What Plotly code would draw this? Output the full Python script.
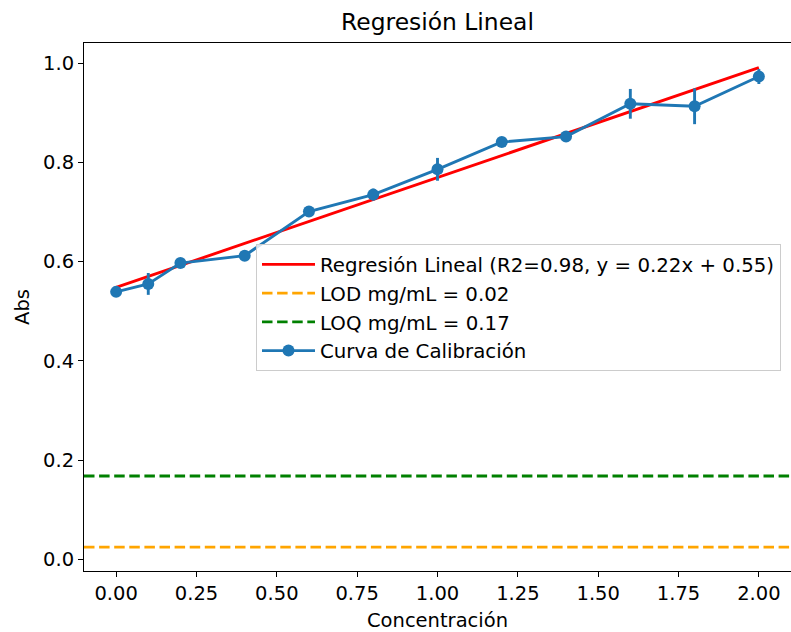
import plotly.graph_objects as go

# Data
conc = [0.0, 0.1, 0.2, 0.4, 0.6, 0.8, 1.0, 1.2, 1.4, 1.6, 1.8, 2.0]
absorb = [0.539, 0.555, 0.597, 0.612, 0.701, 0.735, 0.786, 0.841, 0.852, 0.918, 0.913, 0.973]
abs_err = [0.005, 0.022, 0.005, 0.008, 0.008, 0.012, 0.023, 0.008, 0.010, 0.030, 0.036, 0.015]
slope = 0.2215
intercept = 0.548
lod_y = 0.0246
loq_y = 0.168
x_ticks = [0.0, 0.25, 0.5, 0.75, 1.0, 1.25, 1.5, 1.75, 2.0]
y_ticks = [0.0, 0.2, 0.4, 0.6, 0.8, 1.0]

x_range = [-0.1, 2.1]
y_range = [-0.0236, 1.0406]

W, H = 791, 632
ML, MR, MT, MB = 84, 0, 43, 61
FONT = "DejaVu Sans"
FS = 19.5

fig = go.Figure()

reg_x = [conc[0], conc[-1]]
reg_y = [slope * v + intercept for v in reg_x]
fig.add_trace(go.Scatter(
    x=reg_x, y=reg_y, mode="lines",
    line=dict(color="#ff0000", width=2.9),
    name="Regresión Lineal (R2=0.98, y = 0.22x + 0.55)", legendgroup="a"))

fig.add_trace(go.Scatter(
    x=x_range, y=[lod_y, lod_y], mode="lines",
    line=dict(color="#ffa500", width=2.9, dash="10.5px,4.6px"),
    name="LOD mg/mL = 0.02", legendgroup="b"))

fig.add_trace(go.Scatter(
    x=x_range, y=[loq_y, loq_y], mode="lines",
    line=dict(color="#008000", width=2.9, dash="10.5px,4.6px"),
    name="LOQ mg/mL = 0.17", legendgroup="c"))

fig.add_trace(go.Scatter(
    x=conc, y=absorb, mode="lines+markers",
    line=dict(color="#1f77b4", width=2.9),
    marker=dict(color="#1f77b4", size=12),
    error_y=dict(type="data", array=abs_err, visible=True,
                 color="#1f77b4", thickness=2.9, width=0),
    name="Curva de Calibración", legendgroup="d"))

fig.update_layout(
    width=W, height=H,
    margin=dict(l=ML, r=MR, t=MT, b=MB),
    paper_bgcolor="white", plot_bgcolor="white",
    font=dict(family=FONT, size=FS, color="black"),
    title=dict(text="Regresión Lineal", x=(ML + (W - ML - MR) / 2) / W, xanchor="center",
               xref="container", y=1 - 22 / H, yanchor="middle", yref="container",
               font=dict(size=23.4, family=FONT, color="black")),
    showlegend=True,
    legend=dict(x=(256 - ML) / (W - ML - MR), y=(H - MB - 244) / (H - MT - MB),
                xanchor="left", yanchor="top",
                bgcolor="rgba(255,255,255,0.8)", bordercolor="#cccccc", borderwidth=1,
                font=dict(size=19.8, family=FONT, color="black"),
                itemwidth=53, tracegroupgap=0, traceorder="grouped"),
)

fig.update_xaxes(
    range=x_range, tickvals=x_ticks, tickformat=".2f",
    showgrid=False, zeroline=False,
    showline=True, linecolor="black", linewidth=1.1, mirror=True,
    ticks="outside", ticklen=5, tickwidth=1.1, tickcolor="black",
    title=dict(text="Concentración", standoff=8, font=dict(size=FS, family=FONT)),
    automargin=False,
)
fig.update_yaxes(
    range=y_range, tickvals=y_ticks, tickformat=".1f",
    showgrid=False, zeroline=False,
    showline=True, linecolor="black", linewidth=1.1, mirror=False,
    ticks="outside", ticklen=5, tickwidth=1.1, tickcolor="black",
    title=dict(text="Abs", standoff=8, font=dict(size=FS, family=FONT)),
    automargin=False,
)

fig.write_html("out.html")
